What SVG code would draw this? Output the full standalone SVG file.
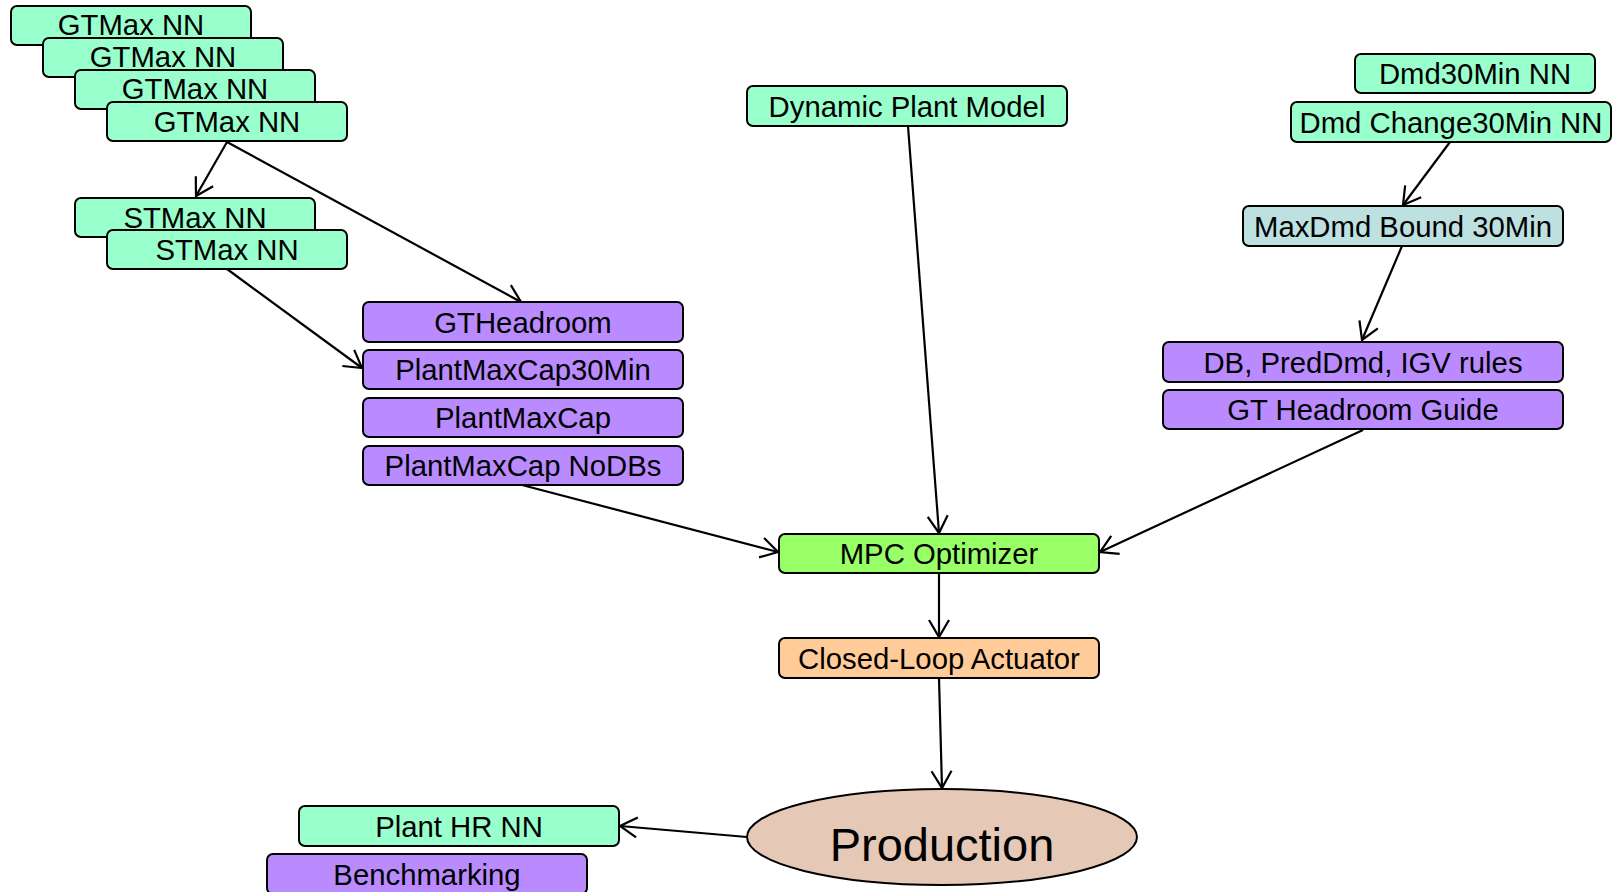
<svg xmlns="http://www.w3.org/2000/svg" width="1615" height="892" viewBox="0 0 1615 892">
  <style>
    .box { stroke: #000; stroke-width: 2; }
    .nn { fill: #99ffcc; }
    .calc { fill: #b98bff; }
    .bound { fill: #bde0e0; }
    .opt { fill: #99ff66; }
    .act { fill: #ffcc99; }
    .prod { fill: #e5c8b5; stroke: #000; stroke-width: 2; }
    text { font-family: "Liberation Sans", Arial, sans-serif; font-size: 29.3px; fill: #000; text-anchor: middle; }
    .big { font-size: 47px; }
    .edge { fill: none; stroke: #000; stroke-width: 2.2; marker-end: url(#arrow); }
  </style>
  <defs>
    <marker id="arrow" markerUnits="userSpaceOnUse" markerWidth="24" markerHeight="24" viewBox="-20 -12 24 24" refX="0" refY="0" orient="auto" overflow="visible">
      <path d="M -17,-10 L 0,0 L -17,10" fill="none" stroke="#000" stroke-width="2.2"/>
    </marker>
  </defs>

  <rect width="1615" height="892" fill="#fff"/>

  <!-- Connectors -->
  <g id="connectors">
    <line class="edge" x1="227" y1="142" x2="196" y2="196"/>
    <line class="edge" x1="227" y1="142" x2="521" y2="302"/>
    <line class="edge" x1="227" y1="269" x2="362" y2="368"/>
    <line class="edge" x1="522" y1="485" x2="778" y2="552"/>
    <line class="edge" x1="908" y1="126" x2="939" y2="533"/>
    <line class="edge" x1="1363" y1="430" x2="1100" y2="552"/>
    <line class="edge" x1="1450" y1="142" x2="1403" y2="205"/>
    <line class="edge" x1="1402" y1="246" x2="1362" y2="340"/>
    <line class="edge" x1="939" y1="573" x2="939" y2="637"/>
    <line class="edge" x1="939" y1="678" x2="942" y2="788"/>
    <line class="edge" x1="747" y1="837" x2="620" y2="826"/>
  </g>

  <!-- GTMax NN stack -->
  <g id="gtmax1"><rect class="box nn" x="11" y="6" width="240" height="39" rx="6"/><text x="131" y="35">GTMax NN</text></g>
  <g id="gtmax2"><rect class="box nn" x="43" y="38" width="240" height="39" rx="6"/><text x="163" y="67">GTMax NN</text></g>
  <g id="gtmax3"><rect class="box nn" x="75" y="70" width="240" height="39" rx="6"/><text x="195" y="99">GTMax NN</text></g>
  <g id="gtmax4"><rect class="box nn" x="107" y="102" width="240" height="39" rx="6"/><text x="227" y="132">GTMax NN</text></g>

  <!-- STMax NN stack -->
  <g id="stmax1"><rect class="box nn" x="75" y="198" width="240" height="39" rx="6"/><text x="195" y="228">STMax NN</text></g>
  <g id="stmax2"><rect class="box nn" x="107" y="230" width="240" height="39" rx="6"/><text x="227" y="260">STMax NN</text></g>

  <!-- Capacity calculations -->
  <g id="gtheadroom"><rect class="box calc" x="363" y="302" width="320" height="40" rx="6"/><text x="523" y="333">GTHeadroom</text></g>
  <g id="plantmaxcap30"><rect class="box calc" x="363" y="350" width="320" height="39" rx="6"/><text x="523" y="380">PlantMaxCap30Min</text></g>
  <g id="plantmaxcap"><rect class="box calc" x="363" y="398" width="320" height="39" rx="6"/><text x="523" y="428">PlantMaxCap</text></g>
  <g id="plantmaxcapnodbs"><rect class="box calc" x="363" y="446" width="320" height="39" rx="6"/><text x="523" y="476">PlantMaxCap NoDBs</text></g>

  <!-- Plant model -->
  <g id="dynamicplant"><rect class="box nn" x="747" y="86" width="320" height="40" rx="6"/><text x="907" y="117">Dynamic Plant Model</text></g>

  <!-- Demand branch -->
  <g id="dmd30"><rect class="box nn" x="1355" y="54" width="240" height="39" rx="6"/><text x="1475" y="84">Dmd30Min NN</text></g>
  <g id="dmdchange30"><rect class="box nn" x="1291" y="102" width="320" height="40" rx="6"/><text x="1451" y="133">Dmd Change30Min NN</text></g>
  <g id="maxdmdbound"><rect class="box bound" x="1243" y="206" width="320" height="40" rx="6"/><text x="1403" y="237">MaxDmd Bound 30Min</text></g>
  <g id="dbrules"><rect class="box calc" x="1163" y="342" width="400" height="40" rx="6"/><text x="1363" y="373">DB, PredDmd, IGV rules</text></g>
  <g id="gtheadroomguide"><rect class="box calc" x="1163" y="390" width="400" height="39" rx="6"/><text x="1363" y="420">GT Headroom Guide</text></g>

  <!-- Control chain -->
  <g id="mpc"><rect class="box opt" x="779" y="534" width="320" height="39" rx="6"/><text x="939" y="564">MPC Optimizer</text></g>
  <g id="actuator"><rect class="box act" x="779" y="638" width="320" height="40" rx="6"/><text x="939" y="669">Closed-Loop Actuator</text></g>
  <g id="production"><ellipse class="prod" cx="942" cy="837" rx="195" ry="48"/><text class="big" x="942" y="861">Production</text></g>

  <!-- Outputs -->
  <g id="planthr"><rect class="box nn" x="299" y="806" width="320" height="40" rx="6"/><text x="459" y="837">Plant HR NN</text></g>
  <g id="benchmarking"><rect class="box calc" x="267" y="854" width="320" height="40" rx="6"/><text x="427" y="885">Benchmarking</text></g>
</svg>
